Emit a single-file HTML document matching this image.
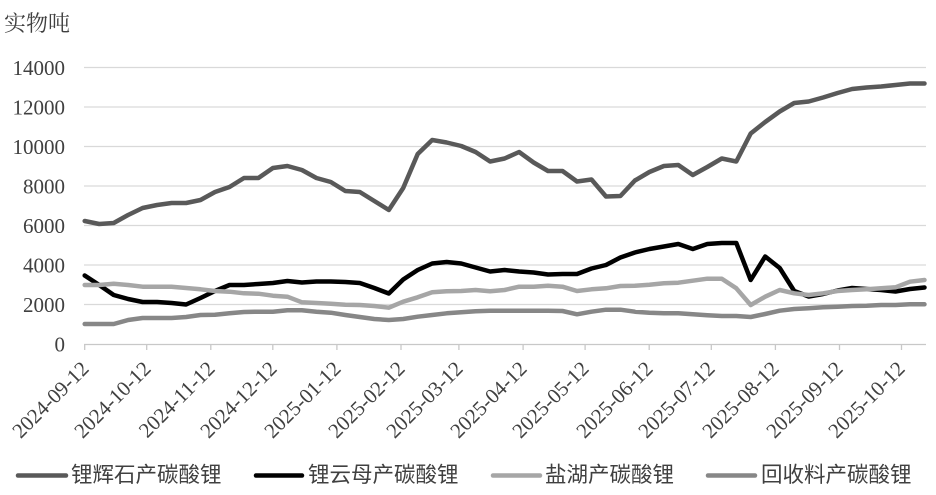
<!DOCTYPE html>
<html><head><meta charset="utf-8"><style>
html,body{margin:0;padding:0;background:#fff;}
svg{display:block;}
</style></head><body>
<svg width="936" height="495" viewBox="0 0 936 495" xmlns="http://www.w3.org/2000/svg">
<rect width="936" height="495" fill="#fff"/>
<text x="4" y="31" font-family="'Liberation Serif','Noto Serif CJK SC','Noto Sans CJK SC',serif" font-size="22" fill="#404040">实物吨</text>
<g stroke="#d9d9d9" stroke-width="1.2">
<line x1="84" y1="67.5" x2="926" y2="67.5"/>
<line x1="84" y1="107" x2="926" y2="107"/>
<line x1="84" y1="146.5" x2="926" y2="146.5"/>
<line x1="84" y1="186" x2="926" y2="186"/>
<line x1="84" y1="225.5" x2="926" y2="225.5"/>
<line x1="84" y1="265" x2="926" y2="265"/>
<line x1="84" y1="304.5" x2="926" y2="304.5"/>
</g>
<g stroke="#c8c8c8" stroke-width="1.3">
<line x1="84" y1="344.5" x2="926" y2="344.5"/>
<line x1="84.7" y1="344" x2="84.7" y2="350"/>
<line x1="146.7" y1="344" x2="146.7" y2="350"/>
<line x1="210.8" y1="344" x2="210.8" y2="350"/>
<line x1="272.8" y1="344" x2="272.8" y2="350"/>
<line x1="336.9" y1="344" x2="336.9" y2="350"/>
<line x1="401" y1="344" x2="401" y2="350"/>
<line x1="458.9" y1="344" x2="458.9" y2="350"/>
<line x1="523.1" y1="344" x2="523.1" y2="350"/>
<line x1="585.1" y1="344" x2="585.1" y2="350"/>
<line x1="649.2" y1="344" x2="649.2" y2="350"/>
<line x1="711.3" y1="344" x2="711.3" y2="350"/>
<line x1="775.4" y1="344" x2="775.4" y2="350"/>
<line x1="839.5" y1="344" x2="839.5" y2="350"/>
<line x1="901.5" y1="344" x2="901.5" y2="350"/>
</g>
<g font-family="'Liberation Serif',serif" font-size="21" fill="#404040" text-anchor="end">
<text x="65" y="75">14000</text>
<text x="65" y="114.5">12000</text>
<text x="65" y="154">10000</text>
<text x="65" y="193.5">8000</text>
<text x="65" y="233">6000</text>
<text x="65" y="272.5">4000</text>
<text x="65" y="312">2000</text>
<text x="65" y="351.5">0</text>
</g>
<g font-family="'Liberation Serif',serif" font-size="21" fill="#404040" text-anchor="end">
<text transform="translate(90,370) rotate(-45)">2024-09-12</text>
<text transform="translate(152,370) rotate(-45)">2024-10-12</text>
<text transform="translate(216,370) rotate(-45)">2024-11-12</text>
<text transform="translate(278,370) rotate(-45)">2024-12-12</text>
<text transform="translate(342,370) rotate(-45)">2025-01-12</text>
<text transform="translate(406,370) rotate(-45)">2025-02-12</text>
<text transform="translate(464,370) rotate(-45)">2025-03-12</text>
<text transform="translate(528,370) rotate(-45)">2025-04-12</text>
<text transform="translate(590,370) rotate(-45)">2025-05-12</text>
<text transform="translate(654,370) rotate(-45)">2025-06-12</text>
<text transform="translate(716,370) rotate(-45)">2025-07-12</text>
<text transform="translate(780,370) rotate(-45)">2025-08-12</text>
<text transform="translate(844,370) rotate(-45)">2025-09-12</text>
<text transform="translate(906,370) rotate(-45)">2025-10-12</text>
</g>
<g fill="none" stroke-width="4.5" stroke-linejoin="round" stroke-linecap="round">
<polyline stroke="#595959" points="84.7,221 99.2,224 113.7,223 128.1,215 142.6,208 157.1,205 171.6,203 186.1,203 200.5,200 215,192 229.5,187 244,178 258.4,178 272.9,168 287.4,166 301.9,170 316.4,178 330.8,182 345.3,191 359.8,192 374.3,201 388.8,210 403.2,188 417.7,154 432.2,140 446.7,142.5 461.2,146 475.6,152 490.1,161.5 504.6,158.5 519.1,152 533.6,162.5 548,171 562.5,171 577,181.5 591.5,179.5 606,196.5 620.4,196 634.9,180.5 649.4,172 663.9,166 678.3,165 692.8,175 707.3,167 721.8,158.5 736.3,161.5 750.7,133.5 765.2,122 779.7,111.5 794.2,103 808.7,101.5 823.1,97.5 837.6,93 852.1,89 866.6,87.5 881.1,86.5 895.5,85 910,83.5 924.5,83.5"/>
<polyline stroke="#000000" points="84.7,275.5 99.2,285 113.7,295 128.1,299 142.6,302 157.1,302 171.6,303 186.1,304.5 200.5,298 215,291 229.5,285 244,285 258.4,284 272.9,283 287.4,281 301.9,282.5 316.4,281.5 330.8,281.5 345.3,282 359.8,283 374.3,288 388.8,293.5 403.2,279.5 417.7,270 432.2,263.5 446.7,262 461.2,263.5 475.6,267.5 490.1,271.5 504.6,270 519.1,271.5 533.6,272.5 548,274.5 562.5,274 577,274 591.5,268.5 606,265 620.4,257.5 634.9,252.5 649.4,249 663.9,246.5 678.3,244 692.8,249 707.3,244 721.8,243 736.3,243 750.7,280 765.2,256.5 779.7,268 794.2,291 808.7,296.5 823.1,294 837.6,290.5 852.1,288 866.6,289 881.1,290 895.5,291.5 910,289 924.5,287.5"/>
<polyline stroke="#a6a6a6" points="84.7,285 99.2,285 113.7,283.7 128.1,285 142.6,286.7 157.1,286.7 171.6,286.7 186.1,288 200.5,289.3 215,291 229.5,291.7 244,293.3 258.4,293.7 272.9,295.7 287.4,296.7 301.9,302.3 316.4,303 330.8,303.7 345.3,304.7 359.8,305 374.3,306 388.8,307.7 403.2,301.7 417.7,297.3 432.2,292.3 446.7,291.3 461.2,291 475.6,290 490.1,291.3 504.6,290 519.1,286.7 533.6,286.7 548,285.7 562.5,286.7 577,291 591.5,289.3 606,288.3 620.4,286 634.9,285.7 649.4,284.7 663.9,283.3 678.3,282.7 692.8,280.7 707.3,278.7 721.8,278.7 736.3,288.3 750.7,305 765.2,296.7 779.7,290 794.2,293.3 808.7,295 823.1,293.3 837.6,291 852.1,290 866.6,289.3 881.1,288.3 895.5,287.3 910,281.7 924.5,280"/>
<polyline stroke="#878787" points="84.7,324 99.2,324 113.7,324 128.1,320 142.6,318 157.1,318 171.6,318 186.1,317 200.5,315 215,314.7 229.5,313.3 244,312 258.4,311.7 272.9,311.7 287.4,310.3 301.9,310.3 316.4,311.7 330.8,312.7 345.3,315 359.8,317 374.3,319 388.8,320 403.2,319 417.7,316.7 432.2,315 446.7,313.3 461.2,312.3 475.6,311.3 490.1,310.7 504.6,310.7 519.1,310.7 533.6,310.7 548,310.7 562.5,311 577,314.3 591.5,311.7 606,309.7 620.4,309.7 634.9,311.7 649.4,312.7 663.9,313.3 678.3,313.3 692.8,314.3 707.3,315.3 721.8,316 736.3,316 750.7,317 765.2,314 779.7,310.7 794.2,309 808.7,308.3 823.1,307.3 837.6,306.7 852.1,306 866.6,305.7 881.1,305 895.5,305 910,304.3 924.5,304.3"/>
</g>
<g stroke-width="4.5" stroke-linecap="round">
<line x1="18" y1="475.5" x2="66" y2="475.5" stroke="#595959"/>
<line x1="256" y1="475.5" x2="302" y2="475.5" stroke="#000000"/>
<line x1="493" y1="475.5" x2="540" y2="475.5" stroke="#a6a6a6"/>
<line x1="708" y1="475.5" x2="755" y2="475.5" stroke="#878787"/>
</g>
<g font-family="'Liberation Sans','Noto Sans CJK SC',sans-serif" font-size="21.5" fill="#404040">
<text x="71" y="482">锂辉石产碳酸锂</text>
<text x="308" y="482">锂云母产碳酸锂</text>
<text x="545" y="482">盐湖产碳酸锂</text>
<text x="761" y="482">回收料产碳酸锂</text>
</g>
</svg>
</body></html>
